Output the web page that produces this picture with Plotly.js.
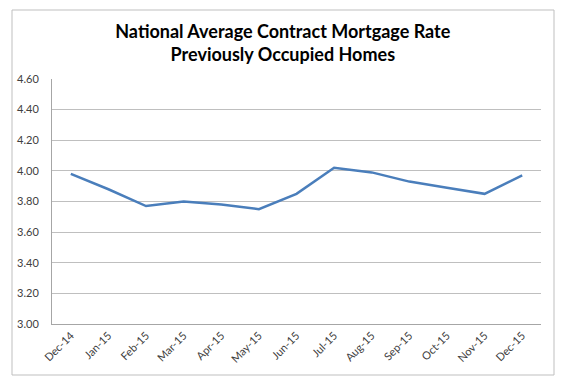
<!DOCTYPE html>
<html>
<head>
<meta charset="utf-8">
<script src="https://cdn.plot.ly/plotly-3.0.1.min.js"></script>
<style>
html,body{margin:0;padding:0;background:#fff;}
#chart{width:570px;height:386px;}
</style>
</head>
<body>
<div id="chart"></div>
<script>
const months = ["Dec-14","Jan-15","Feb-15","Mar-15","Apr-15","May-15","Jun-15","Jul-15","Aug-15","Sep-15","Oct-15","Nov-15","Dec-15"];
const rates = [3.98, 3.88, 3.77, 3.80, 3.78, 3.75, 3.85, 4.02, 3.99, 3.93, 3.89, 3.85, 3.97];
const yTicks = [3.0, 3.2, 3.4, 3.6, 3.8, 4.0, 4.2, 4.4, 4.6];

const L = 52, R = 29, T = 79, B = 62;
const pw = 570 - L - R, ph = 386 - T - B;
const px = x => (x - L) / pw;
const py = y => (386 - B - y) / ph;

const trace = {
  x: months,
  y: rates,
  type: 'scatter',
  mode: 'lines',
  line: {color: '#4a7ebb', width: 2.5},
  hoverinfo: 'skip'
};

const layout = {
  width: 570,
  height: 386,
  margin: {l: L, r: R, t: T, b: B, pad: 0},
  paper_bgcolor: '#ffffff',
  plot_bgcolor: '#ffffff',
  showlegend: false,
  font: {family: 'Lato, Open Sans, sans-serif', color: '#404040', size: 11},
  title: {
    text: 'National Average Contract Mortgage Rate<br>Previously Occupied Homes',
    font: {family: 'Lato, Open Sans, sans-serif', size: 18, color: '#000000', weight: 'bold'},
    x: 0.472, xanchor: 'center', xref: 'paper',
    y: 0.902, yanchor: 'middle', yref: 'container'
  },
  xaxis: {
    type: 'category',
    range: [-0.5, months.length - 0.5],
    tickangle: -45,
    showgrid: false,
    showline: true,
    linecolor: '#a6a6a6',
    linewidth: 1,
    ticks: '',
    tickfont: {size: 11, color: '#404040'},
    fixedrange: true
  },
  yaxis: {
    range: [3.0, 4.6],
    tickvals: yTicks,
    ticktext: yTicks.map(v => v.toFixed(2)),
    showgrid: true,
    gridcolor: '#bfbfbf',
    gridwidth: 1,
    showline: true,
    linecolor: '#a6a6a6',
    linewidth: 1,
    zeroline: false,
    ticks: '',
    ticklabelstandoff: 10,
    tickfont: {size: 11, color: '#404040'},
    fixedrange: true
  },
  shapes: [{
    type: 'rect', xref: 'paper', yref: 'paper',
    x0: px(12), x1: px(554), y0: py(375), y1: py(10),
    line: {color: '#bfbfbf', width: 1},
    fillcolor: 'rgba(0,0,0,0)',
    layer: 'below'
  }]
};

Plotly.newPlot('chart', [trace], layout, {displayModeBar: false, staticPlot: true});
</script>
</body>
</html>
